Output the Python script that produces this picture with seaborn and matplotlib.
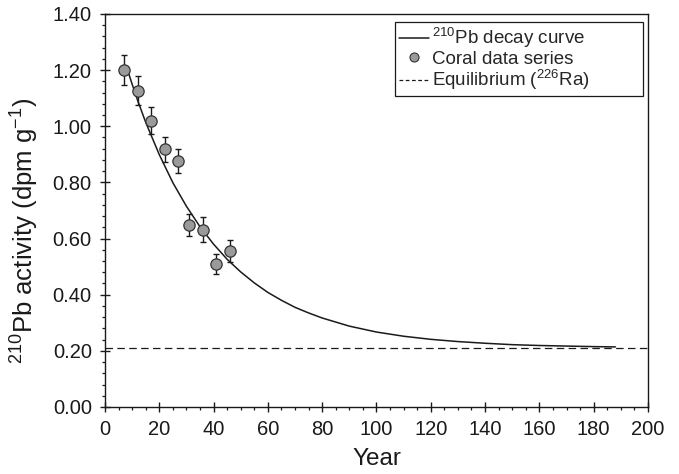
import numpy as np
import pandas as pd
import matplotlib
matplotlib.use("Agg")
import matplotlib.pyplot as plt
from matplotlib.lines import Line2D
from matplotlib.ticker import MultipleLocator, FormatStrFormatter
import seaborn as sns

# coral data series (year, activity, error)
coral_year = [7, 12, 17, 22, 27, 31, 36, 41, 46]
coral_activity = [1.20, 1.127, 1.020, 0.918, 0.876, 0.648, 0.631, 0.508, 0.556]
coral_error = [0.053, 0.053, 0.049, 0.044, 0.044, 0.039, 0.045, 0.036, 0.040]

# 210Pb decay curve
curve_year = [8, 10, 12, 15, 20, 25, 30, 35, 40, 45, 50, 55, 60, 65, 70, 75, 80,
              90, 100, 110, 120, 130, 140, 150, 160, 170, 180, 188]
curve_activity = [1.210, 1.150, 1.093, 1.014, 0.899, 0.799, 0.715, 0.642, 0.580,
                  0.526, 0.481, 0.442, 0.408, 0.380, 0.355, 0.335, 0.317, 0.288,
                  0.267, 0.252, 0.241, 0.233, 0.227, 0.222, 0.219, 0.217, 0.215, 0.214]

equilibrium = 0.21

sns.set_style("ticks")
plt.rcParams["font.family"] = ["Liberation Sans", "DejaVu Sans"]
plt.rcParams["mathtext.fontset"] = "custom"
plt.rcParams["mathtext.rm"] = "Liberation Sans"
plt.rcParams["mathtext.it"] = "Liberation Sans:italic"
plt.rcParams["mathtext.default"] = "regular"

fig, ax = plt.subplots(figsize=(6.79, 4.74), dpi=100)
fig.subplots_adjust(left=0.1546, right=0.9543, top=0.9705, bottom=0.1414)

curve = pd.DataFrame({"Year": curve_year, "Activity": curve_activity})
coral = pd.DataFrame({"Year": coral_year, "Activity": coral_activity, "Err": coral_error})

sns.lineplot(data=curve, x="Year", y="Activity", ax=ax, color="#1a1a1a",
             linewidth=1.1, zorder=2)
ax.axhline(equilibrium, color="#1a1a1a", linewidth=0.9, dashes=(6, 3.5), zorder=1)
ax.errorbar(coral["Year"], coral["Activity"], yerr=coral["Err"], fmt="none",
            ecolor="#1a1a1a", elinewidth=1.0, capsize=2.5, capthick=1.0, zorder=3)
sns.scatterplot(data=coral, x="Year", y="Activity", ax=ax, s=66, color="#9a9a9a",
                edgecolor="#333333", linewidth=0.9, zorder=4)

ax.set_xlim(0, 200)
ax.set_ylim(0, 1.40)
ax.xaxis.set_major_locator(MultipleLocator(20))
ax.xaxis.set_minor_locator(MultipleLocator(5))
ax.yaxis.set_major_locator(MultipleLocator(0.2))
ax.yaxis.set_minor_locator(MultipleLocator(0.04))
ax.yaxis.set_major_formatter(FormatStrFormatter("%.2f"))
ax.tick_params(which="major", direction="inout", length=7, width=1.0,
               labelsize=14.5, color="#1a1a1a", labelcolor="#1a1a1a")
ax.tick_params(axis="x", which="major", pad=6)
ax.tick_params(axis="y", which="major", pad=6)
ax.tick_params(which="minor", direction="out", length=2.5, width=0.9, color="#1a1a1a")
for s in ax.spines.values():
    s.set_linewidth(1.0)
    s.set_color("#1a1a1a")

ax.set_xlabel("Year", fontsize=17.5, color="#1a1a1a", labelpad=6)
ax.set_ylabel("$^{210}$Pb activity (dpm g$^{-1}$)", fontsize=18.5, color="#1a1a1a")
ax.yaxis.set_label_coords(-0.118, 0.448)

handles = [
    Line2D([], [], color="#1a1a1a", linewidth=1.1),
    Line2D([], [], linestyle="none", marker="o", markersize=6.5, markerfacecolor="#9a9a9a",
           markeredgecolor="#333333", markeredgewidth=0.8),
    Line2D([], [], color="#1a1a1a", linewidth=0.9, dashes=(3, 2)),
]
labels = ["$^{210}$Pb decay curve", "Coral data series", "Equilibrium ($^{226}$Ra)"]
leg = ax.legend(handles, labels, loc="upper right", bbox_to_anchor=(0.534, 0.80, 0.457, 0.1796),
                mode="expand", fontsize=13.5, frameon=True,
                fancybox=False, framealpha=1, edgecolor="#1a1a1a", handlelength=1.6,
                handletextpad=0.15, borderaxespad=0, labelspacing=0.02, borderpad=0.22)
leg.get_frame().set_linewidth(0.9)

fig.savefig("out.png", dpi=100)
